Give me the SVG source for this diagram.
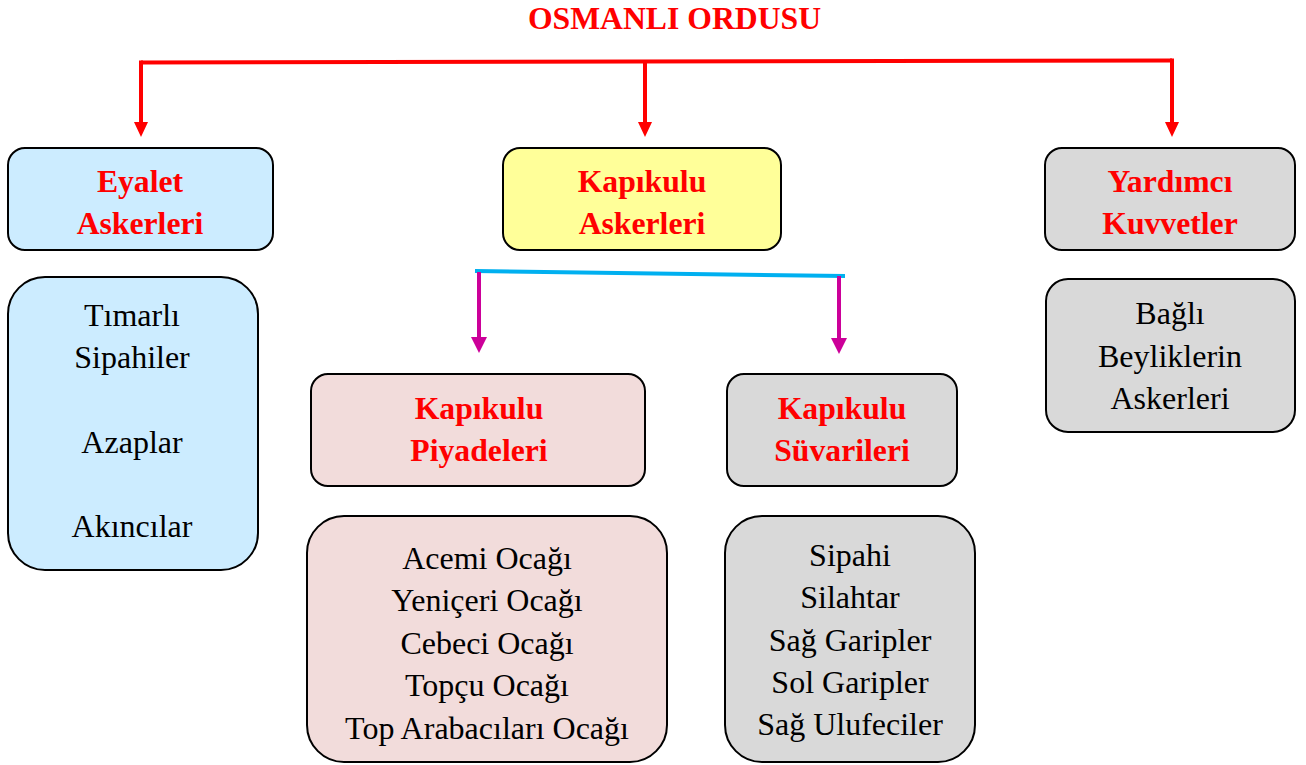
<svg xmlns="http://www.w3.org/2000/svg" width="1306" height="765" viewBox="0 0 1306 765">
<defs>
<style>
.box{stroke:#000;stroke-width:2}
.blue{fill:#CCECFF}
.yellow{fill:#FFFF99}
.gray{fill:#D9D9D9}
.pink{fill:#F2DCDB}
.h{font-family:"Liberation Serif","Times New Roman",serif;font-weight:bold;font-size:31.7px;fill:#FF0000;text-anchor:middle}
.t{font-family:"Liberation Serif","Times New Roman",serif;font-size:32px;fill:#000;text-anchor:middle}
.red{stroke:#FF0000;stroke-width:4;fill:none}
.mag{stroke:#CC0099;stroke-width:4;fill:none}
</style>
<marker id="arrRed" markerUnits="userSpaceOnUse" viewBox="0 0 15 14" markerWidth="15" markerHeight="14" refX="0" refY="7" orient="auto">
<path d="M0,0 L15,7 L0,14 z" fill="#FF0000"/>
</marker>
<marker id="arrMag" markerUnits="userSpaceOnUse" viewBox="0 0 16 16" markerWidth="16" markerHeight="16" refX="0" refY="8" orient="auto">
<path d="M0,0 L16,8 L0,16 z" fill="#CC0099"/>
</marker>
</defs>
<rect width="1306" height="765" fill="#FFFFFF"/>
<g id="title">
<text class="h" x="674.5" y="29">OSMANLI ORDUSU</text>
</g>
<g id="connectors">
<path class="red" d="M141,62.5 L1172,60.5"/>
<line class="red" x1="141" y1="60.5" x2="141" y2="122" marker-end="url(#arrRed)"/>
<line class="red" x1="645" y1="61.5" x2="645" y2="122" marker-end="url(#arrRed)"/>
<line class="red" x1="1172" y1="58.5" x2="1172" y2="122" marker-end="url(#arrRed)"/>
<line x1="475" y1="271" x2="845" y2="276" stroke="#00B0F0" stroke-width="4"/>
<line class="mag" x1="479" y1="272" x2="479" y2="337" marker-end="url(#arrMag)"/>
<line class="mag" x1="839" y1="276" x2="839" y2="338" marker-end="url(#arrMag)"/>
</g>
<g id="eyalet">
<rect class="box blue" x="8" y="148" width="265" height="102" rx="17"/>
<text class="h" x="140" y="192">Eyalet</text>
<text class="h" x="140" y="234">Askerleri</text>
</g>
<g id="eyalet-list">
<rect class="box blue" x="8" y="277" width="250" height="293" rx="37"/>
<text class="t" x="132" y="325.5">Tımarlı</text>
<text class="t" x="132" y="368">Sipahiler</text>
<text class="t" x="132" y="452.5">Azaplar</text>
<text class="t" x="132" y="537">Akıncılar</text>
</g>
<g id="kapikulu">
<rect class="box yellow" x="503" y="148" width="278" height="102" rx="17"/>
<text class="h" x="642" y="192">Kapıkulu</text>
<text class="h" x="642" y="234">Askerleri</text>
</g>
<g id="piyadeleri">
<rect class="box pink" x="311" y="374" width="334" height="112" rx="17"/>
<text class="h" x="479" y="419">Kapıkulu</text>
<text class="h" x="479" y="461">Piyadeleri</text>
</g>
<g id="piyadeleri-list">
<rect class="box pink" x="307" y="516" width="360" height="246" rx="37"/>
<text class="t" x="487" y="569">Acemi Ocağı</text>
<text class="t" x="487" y="611">Yeniçeri Ocağı</text>
<text class="t" x="487" y="654">Cebeci Ocağı</text>
<text class="t" x="487" y="696">Topçu Ocağı</text>
<text class="t" x="487" y="739">Top Arabacıları Ocağı</text>
</g>
<g id="suvarileri">
<rect class="box gray" x="727" y="374" width="230" height="112" rx="17"/>
<text class="h" x="842" y="419">Kapıkulu</text>
<text class="h" x="842" y="461">Süvarileri</text>
</g>
<g id="suvarileri-list">
<rect class="box gray" x="725" y="516" width="250" height="246" rx="37"/>
<text class="t" x="850" y="566">Sipahi</text>
<text class="t" x="850" y="608">Silahtar</text>
<text class="t" x="850" y="651">Sağ Garipler</text>
<text class="t" x="850" y="693">Sol Garipler</text>
<text class="t" x="850" y="735">Sağ Ulufeciler</text>
</g>
<g id="yardimci">
<rect class="box gray" x="1045" y="148" width="250" height="102" rx="17"/>
<text class="h" x="1170" y="192">Yardımcı</text>
<text class="h" x="1170" y="234">Kuvvetler</text>
</g>
<g id="yardimci-list">
<rect class="box gray" x="1046" y="279" width="249" height="153" rx="22"/>
<text class="t" x="1170" y="324">Bağlı</text>
<text class="t" x="1170" y="367">Beyliklerin</text>
<text class="t" x="1170" y="409">Askerleri</text>
</g>
</svg>
